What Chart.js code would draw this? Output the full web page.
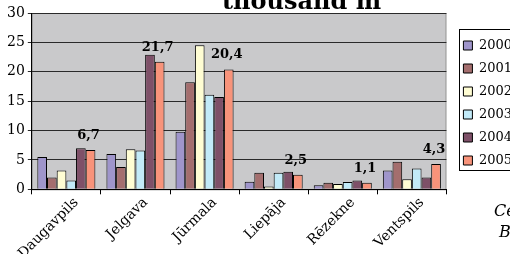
<!DOCTYPE html>
<html>
<head>
<meta charset="utf-8">
<script src="https://cdn.jsdelivr.net/npm/chart.js@4/dist/chart.umd.min.js"></script>
<style>
  html, body { margin: 0; padding: 0; background: #fff; overflow: hidden; width: 510px; height: 254px; }
  #wrap { position: relative; width: 522px; height: 262px; }
  #title { position: absolute; left: 222px; top: -14px; font: bold 24px "DejaVu Serif", serif; white-space: nowrap; }
  #source { position: absolute; left: 494px; top: 200px; font: italic 16px "DejaVu Serif", serif; line-height: 21px; white-space: nowrap; }
</style>
</head>
<body>
<div id="wrap">
  <canvas id="chart1" width="522" height="262"></canvas>
  <div id="title">thousand m</div>
  <div id="source">Central<br>&nbsp;Bureau</div>
</div>
<script>
var cities = ["Daugavpils", "Jelgava", "Jūrmala", "Liepāja", "Rēzekne", "Ventspils"];
var years = ["2000", "2001", "2002", "2003", "2004", "2005"];
var v2000 = [5.5, 6.0, 9.8, 1.3, 0.7, 3.2];
var v2001 = [2.0, 3.8, 18.2, 2.8, 1.1, 4.7];
var v2002 = [3.2, 6.8, 24.5, 0.5, 0.9, 1.7];
var v2003 = [1.5, 6.6, 16.1, 2.8, 1.25, 3.55];
var v2004 = [7.0, 22.9, 15.7, 3.0, 1.5, 2.0];
var v2005 = [6.7, 21.7, 20.4, 2.5, 1.1, 4.3];
var colors = ["#9F95CB", "#A46E6E", "#FFFDD3", "#C2EAF8", "#7E5068", "#F8937A"];

var serif = "'DejaVu Serif', serif";
var series = [v2000, v2001, v2002, v2003, v2004, v2005];

var plotBg = {
  id: "plotBg",
  beforeDraw: function (chart) {
    var a = chart.chartArea, c = chart.ctx;
    c.save();
    c.fillStyle = "#C9C9CB";
    c.fillRect(a.left, a.top, a.right - a.left, a.bottom - a.top);
    c.strokeStyle = "#9a9a9a";
    c.lineWidth = 1;
    c.strokeRect(a.left + 0.5, a.top + 0.5, a.right - a.left - 1, a.bottom - a.top);
    c.restore();
  },
  afterDraw: function (chart) {
    // legend frame
    var boxes = chart.legend.legendHitBoxes, c = chart.ctx;
    if (!boxes || !boxes.length) return;
    var top = boxes[0].top - 10, bottom = boxes[boxes.length - 1].top + boxes[boxes.length - 1].height + 3;
    var left = boxes[0].left - 4;
    c.save();
    c.strokeStyle = "#000";
    c.lineWidth = 1;
    c.strokeRect(Math.round(left) + 0.5, Math.round(top) + 0.5, 100, Math.round(bottom - top));
    c.restore();
  }
};

var lastLabels = {
  id: "lastLabels",
  afterDatasetsDraw: function (chart) {
    var meta = chart.getDatasetMeta(5), c = chart.ctx;
    c.save();
    c.font = "bold 13px " + serif;
    c.fillStyle = "#000";
    c.textAlign = "center";
    c.textBaseline = "bottom";
    meta.data.forEach(function (el, i) {
      c.fillText(String(v2005[i]).replace(".", ","), el.x - 2, el.y - 8);
    });
    c.restore();
  }
};

var ctx = document.getElementById("chart1");
new Chart(ctx, {
  type: "bar",
  data: {
    labels: cities,
    datasets: years.map(function (y, i) {
      return {
        label: y,
        data: series[i],
        backgroundColor: colors[i],
        borderColor: "#000",
        borderWidth: 1,
        borderSkipped: "bottom",
        barPercentage: 1,
        categoryPercentage: 0.84
      };
    })
  },
  options: {
    responsive: false,
    animation: false,
    layout: { padding: { top: 13, right: 0, left: 4, bottom: 0 } },
    scales: {
      x: {
        grid: { display: true, offset: true, drawOnChartArea: false, color: "#000", tickLength: 5 },
        border: { color: "#000" },
        ticks: { color: "#000", font: { family: serif, size: 14 }, minRotation: 45, maxRotation: 45, padding: 0, labelOffset: 10 }
      },
      y: {
        min: 0,
        max: 30,
        ticks: { stepSize: 5, color: "#000", font: { family: serif, size: 14 }, padding: 3 },
        grid: { color: "#2a2a2a", tickLength: 4 },
        border: { color: "#000" }
      },
      gap: {
        position: "right",
        display: true,
        ticks: { display: false },
        grid: { display: false },
        border: { display: false },
        afterFit: function (s) { s.width = 7; }
      }
    },
    plugins: {
      legend: {
        position: "right",
        align: "start",
        title: { display: true, text: " ", font: { size: 10 }, padding: { top: 0, bottom: 4 } },
        labels: {
          color: "#000",
          font: { family: serif, size: 13 },
          boxWidth: 9,
          boxHeight: 9,
          padding: 10,
          useBorderRadius: false
        }
      },
      tooltip: { enabled: false }
    }
  },
  plugins: [plotBg, lastLabels]
});
</script>
</body>
</html>
